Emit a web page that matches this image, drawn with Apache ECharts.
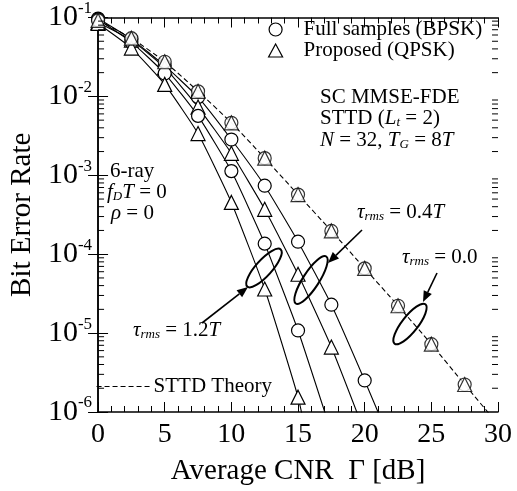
<!DOCTYPE html>
<html><head><meta charset="utf-8">
<script src="https://cdn.jsdelivr.net/npm/echarts@6/dist/echarts.min.js"></script>
<style>html,body{margin:0;padding:0;background:#fff}#c{width:517px;height:491px}</style>
</head><body><div id="c"></div>
<script>
// ---------- data ----------
const xTicks = [0, 5, 10, 15, 20, 25, 30];
const yTickExponents = [-6, -5, -4, -3, -2, -1];

// STTD theory (dashed), tau_rms = 0.0
const theorySnr = [0, 2.5, 5, 7.5, 10, 12.5, 15, 17.5, 20, 22.5, 25, 27.5, 30];
const theoryBer = [0.0918, 0.0547, 0.0275, 0.0116, 0.00463, 0.00165, 5.7e-4, 1.97e-4, 6.61e-5, 2.22e-5, 7.24e-6, 2.23e-6, 7.0e-7];

// tau_rms = 0.0 markers (on the theory curve)
const tau00Snr = [0, 2.5, 5, 7.5, 10, 12.5, 15, 17.5, 20, 22.5, 25, 27.5];
const tau00Full = [0.0918, 0.0547, 0.0275, 0.0116, 0.00463, 0.00165, 5.7e-4, 1.97e-4, 6.61e-5, 2.22e-5, 7.24e-6, 2.23e-6];
const tau00Prop = [0.0918, 0.0547, 0.0275, 0.0116, 0.00463, 0.00165, 5.7e-4, 1.97e-4, 6.61e-5, 2.22e-5, 7.24e-6, 2.23e-6];

// tau_rms = 0.4T
const tau04FullSnr = [0, 2.5, 5, 7.5, 10, 12.5, 15, 17.5, 20];
const tau04Full = [0.097, 0.0532, 0.0245, 0.00977, 0.00284, 7.38e-4, 1.44e-4, 2.29e-5, 2.51e-6];
const tau04FullTail = [22.5, 2.5e-7];
const tau04PropSnr = [0, 2.5, 5, 7.5, 10, 12.5, 15, 17.5];
const tau04Prop = [0.0867, 0.0517, 0.0231, 0.00733, 0.0019, 3.71e-4, 5.57e-5, 6.65e-6];
const tau04PropTail = [20, 5.5e-7];

// tau_rms = 1.2T
const tau12FullSnr = [0, 2.5, 5, 7.5, 10, 12.5, 15];
const tau12Full = [0.0944, 0.0488, 0.0195, 0.00566, 0.00113, 1.36e-4, 1.08e-5];
const tau12FullTail = [17.5, 5.5e-7];
const tau12PropSnr = [0, 2.5, 5, 7.5, 10, 12.5, 15];
const tau12Prop = [0.0841, 0.041, 0.0142, 0.00338, 4.53e-4, 3.62e-5, 1.54e-6];
const tau12PropTail = [16, 2.5e-7];

// ---------- helpers ----------
const FONT = "'Liberation Serif','Times New Roman',serif";
const FULL = 'Full samples (BPSK)';
const PROP = 'Proposed (QPSK)';
const THEORY = 'STTD Theory';

function pairs(xs, ys) { return xs.map((x, i) => [x, ys[i]]); }
function withTail(xs, ys, tail) {
  const d = pairs(xs, ys);
  d.push({ value: tail, symbol: 'none' });
  return d;
}
const markerStyle = { color: '#fff', borderColor: '#000', borderWidth: 1.2 };

function curve(name, symbol, data) {
  return {
    type: 'line', name, data, symbol, symbolSize: symbol === 'triangle' ? 14 : 13,
    showAllSymbol: true, smooth: 0.15,
    itemStyle: markerStyle,
    lineStyle: { color: '#000', width: 1.1 },
    z: 3, animation: false
  };
}
function markers(name, symbol, data, z) {
  return {
    type: 'scatter', name, data, symbol, symbolSize: symbol === 'triangle' ? 14 : 13,
    itemStyle: markerStyle, z, animation: false
  };
}

// minor log ticks (axis decoration)
const yMinorTicks = [];
for (let e = -6; e < -1; e++) for (let k = 2; k <= 9; k++) yMinorTicks.push(k * Math.pow(10, e));

const chart = echarts.init(document.getElementById('c'), null, { renderer: 'canvas' });

const axisLine = { show: true, lineStyle: { color: '#000', width: 1.5 } };

const option = {
  backgroundColor: '#fff',
  animation: false,
  grid: { left: 94, right: 19, top: 12, bottom: 78, show: false },
  xAxis: [
    {
      type: 'value', min: 0, max: 30, interval: 5, position: 'bottom',
      axisLine, splitLine: { show: false },
      axisTick: { show: true, inside: true, length: 10, lineStyle: { color: '#000', width: 1 } },
      minorTick: { show: true, splitNumber: 5, length: 6, lineStyle: { color: '#000', width: 1 } },
      axisLabel: { show: true, margin: 9, fontFamily: FONT, fontSize: 28, color: '#000',
        formatter: v => xTicks.includes(v) ? String(v) : '' },
      name: 'Average CNR  \u0393 [dB]', nameLocation: 'middle', nameGap: 45,
      nameTextStyle: { fontFamily: FONT, fontSize: 29, color: '#000' }
    },
    {
      type: 'value', min: 0, max: 30, interval: 5, position: 'top',
      axisLine, splitLine: { show: false }, axisLabel: { show: false },
      axisTick: { show: true, inside: true, length: 10, lineStyle: { color: '#000', width: 1 } },
      minorTick: { show: true, splitNumber: 5, length: 6, lineStyle: { color: '#000', width: 1 } }
    }
  ],
  yAxis: [
    {
      type: 'log', logBase: 10, min: 1e-6, max: 1e-1, position: 'left',
      axisLine, splitLine: { show: false },
      axisTick: { show: true, inside: true, length: 10, lineStyle: { color: '#000', width: 1 } },
      axisLabel: {
        show: true, margin: 6, color: '#000',
        formatter: v => {
          const e = Math.round(Math.log10(v));
          return yTickExponents.includes(e) ? '{b|10}{s|' + e + '}' : '';
        },
        rich: {
          b: { fontFamily: FONT, fontSize: 30, color: '#000' },
          s: { fontFamily: FONT, fontSize: 17, color: '#000', padding: [0, 0, 18, 0] }
        }
      },
      name: 'Bit Error Rate', nameLocation: 'middle', nameGap: 58,
      nameTextStyle: { fontFamily: FONT, fontSize: 29, color: '#000' }
    },
    {
      type: 'log', logBase: 10, min: 1e-6, max: 1e-1, position: 'right',
      axisLine, splitLine: { show: false }, axisLabel: { show: false },
      axisTick: { show: true, inside: true, length: 10, lineStyle: { color: '#000', width: 1 } }
    }
  ],
  legend: [
    {
      data: [{ name: FULL, icon: 'circle' }, { name: PROP, icon: 'triangle' }],
      orient: 'vertical', left: 268, top: 19, padding: 0, itemGap: 0,
      itemWidth: 14, itemHeight: 13, selectedMode: false,
      itemStyle: { color: '#fff', borderColor: '#000', borderWidth: 1.2 },
      textStyle: { fontFamily: FONT, fontSize: 21, color: '#000', lineHeight: 21, padding: [0, 0, 0, 16] }
    },
    {
      data: [THEORY], left: 96, top: 376, padding: 0,
      itemWidth: 54, itemHeight: 14, selectedMode: false,
      itemStyle: { color: 'transparent', borderColor: 'transparent', borderWidth: 0, opacity: 0 },
      lineStyle: { color: '#000', width: 1.1, type: [5, 3] },
      textStyle: { fontFamily: FONT, fontSize: 21, color: '#000', lineHeight: 21, padding: [0, 0, 0, -2] }
    }
  ],
  series: [
    {
      type: 'line', name: THEORY, data: pairs(theorySnr, theoryBer), symbol: 'none', smooth: 0.2,
      lineStyle: { color: '#000', width: 1.1, type: [5, 3] }, itemStyle: { color: '#000' }, z: 2
    },
    curve(FULL, 'circle', withTail(tau04FullSnr, tau04Full, tau04FullTail)),
    curve(PROP, 'triangle', withTail(tau04PropSnr, tau04Prop, tau04PropTail)),
    curve(FULL, 'circle', withTail(tau12FullSnr, tau12Full, tau12FullTail)),
    curve(PROP, 'triangle', withTail(tau12PropSnr, tau12Prop, tau12PropTail)),
    markers(FULL, 'circle', pairs(tau00Snr, tau00Full), 5),
    markers(PROP, 'triangle', pairs(tau00Snr, tau00Prop), 6),
    {
      type: 'custom', silent: true, clip: false, z: 10,
      data: yMinorTicks.map(v => [0, v]),
      renderItem: (params, api) => {
        const v = api.value(1);
        const l = api.coord([0, v]);
        const r = api.coord([30, v]);
        return {
          type: 'group', children: [
            { type: 'line', shape: { x1: l[0], y1: l[1], x2: l[0] + 6, y2: l[1] }, style: { stroke: '#000', lineWidth: 1 } },
            { type: 'line', shape: { x1: r[0] - 6, y1: r[1], x2: r[0], y2: r[1] }, style: { stroke: '#000', lineWidth: 1 } }
          ]
        };
      }
    }
  ]
};
chart.setOption(option);

// ---------- annotations ----------
const richBase = {
  n: { fontFamily: FONT, fontSize: 21, color: '#000' },
  i: { fontFamily: FONT, fontSize: 21, fontStyle: 'italic', color: '#000' },
  sub: { fontFamily: FONT, fontSize: 13, fontStyle: 'italic', color: '#000', padding: [9, 0, 0, 0] }
};
function rtext(x, y, text, size) {
  const rich = JSON.parse(JSON.stringify(richBase));
  if (size) { rich.n.fontSize = size; rich.i.fontSize = size; }
  return { type: 'text', x, y, style: { text, rich, verticalAlign: 'middle', align: 'left', fontFamily: FONT, fontSize: size || 21 }, z: 20 };
}
function arrow(x1, y1, x2, y2) {
  const a = Math.atan2(y2 - y1, x2 - x1);
  const L = 11, W = 4.5;
  const bx = x2 - L * Math.cos(a), by = y2 - L * Math.sin(a);
  return {
    type: 'group', z: 20, children: [
      { type: 'line', shape: { x1, y1, x2: bx, y2: by }, style: { stroke: '#000', lineWidth: 1.6 } },
      { type: 'polygon', shape: { points: [[x2, y2], [bx - W * Math.sin(a), by + W * Math.cos(a)], [bx + W * Math.sin(a), by - W * Math.cos(a)]] }, style: { fill: '#000' } }
    ]
  };
}
function ellipse(cx, cy, rx, ry, deg) {
  return { type: 'ellipse', x: cx, y: cy, rotation: deg * Math.PI / 180, shape: { cx: 0, cy: 0, rx, ry }, style: { fill: 'none', stroke: '#000', lineWidth: 2 }, z: 20 };
}

chart.setOption({
  graphic: [
    rtext(320, 97, '{n|SC MMSE-FDE}'),
    rtext(320, 118, '{n|STTD (}{i|L}{sub|t}{n| = 2)}'),
    rtext(320, 140, '{i|N}{n| = 32, }{i|T}{sub|G}{n| = 8}{i|T}'),
    rtext(110, 171, '{n|6-ray}'),
    rtext(107, 192, '{i|f}{sub|D}{i|T}{n| = 0}'),
    rtext(111, 213, '{i|\u03c1}{n| = 0}'),
    rtext(357, 212, '{i|\u03c4}{sub|rms}{n| = 0.4}{i|T}'),
    rtext(402, 257, '{i|\u03c4}{sub|rms}{n| = 0.0}'),
    rtext(133, 330, '{i|\u03c4}{sub|rms}{n| = 1.2}{i|T}'),
    arrow(362, 230, 328, 263),
    arrow(437, 273, 423, 302),
    arrow(202, 323, 248, 287),
    ellipse(264, 268, 25, 8, 48),
    ellipse(311, 280, 28, 8, 57),
    ellipse(410, 324, 25, 8, 52)
  ]
});
</script></body></html>
